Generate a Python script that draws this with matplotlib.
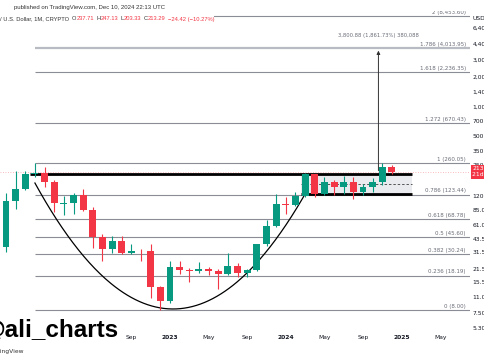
import numpy as np
import matplotlib
matplotlib.use("Agg")
import matplotlib.pyplot as plt
from matplotlib.patches import Rectangle
from matplotlib.ticker import NullLocator
import matplotlib.transforms as mtransforms

# monthly candles, month index relative to Jan 2023 (Aug 2021 .. Dec 2024)
months = list(range(-17, 24))
opens  = [36, 107, 141, 203, 209, 168, 100, 102, 123, 85, 45, 34, 41.6, 31.3, 32.7, 32.2, 13.9,
          9.9, 22.4, 20.8, 20.3, 21.4, 20.3, 18.9, 22.6, 19.2, 20.6, 38, 59,
          100, 97, 121, 201, 125, 166, 147, 168, 131, 150, 166, 237.71]
highs  = [130, 216, 216, 260.06, 240, 176, 121, 130, 143, 92, 49, 46, 47, 38.4, 34.5, 38.4, 14.2,
          25.7, 26, 21.8, 25, 22.2, 21.5, 31.2, 24.6, 21.2, 38.7, 67.4, 124.6,
          116, 131, 208, 204, 190, 175, 192, 189, 161, 183, 264, 247.13]
lows   = [32, 88, 137, 188, 149, 82, 76, 78, 84, 35, 26, 31, 30.5, 30, 26, 10.6, 8.0,
          9.6, 19, 15.6, 19.3, 18.5, 13.1, 18.6, 17.6, 17.4, 20.2, 37, 57,
          79, 94, 118, 118, 124, 122, 127, 111, 122, 133, 155, 203.33]
closes = [107, 141, 203, 209, 168, 101, 102, 123, 85, 45, 34, 41.6, 31.3, 32.7, 32.2, 13.9, 9.9,
          22.4, 20.8, 20.3, 21.4, 20.3, 18.9, 22.6, 19.2, 20.6, 38, 59, 100,
          97, 119, 201, 125, 166, 147, 168, 131, 150, 166, 238, 213.29]

# fibonacci levels drawn on the chart
fib_levels = ["0", "0.236", "0.382", "0.5", "0.618", "0.786", "1", "1.272", "1.618", "1.786", "2"]
fib_prices = [8.00, 18.19, 30.24, 45.60, 68.78, 123.44, 260.05, 670.43, 2236.35, 4013.95, 8453.60]

# range box + cup drawing
box_top, box_bottom = 202.0, 124.7
box_start, box_end, line_start = 13.6, 25.1, -14.5
cup_months = [-14, 0.5, 14]
cup_prices = [163, 8.25, 125.7]
arrow_month, arrow_from, arrow_to = 21.6, 204.16, 4005.04
last_price = 213.29

tick_months = [-4, 0, 4, 8, 12, 16, 20, 24, 28]
tick_labels = ["Sep", "2023", "May", "Sep", "2024", "May", "Sep", "2025", "May"]
price_ticks = [6400, 4400, 3000, 2000, 1400, 1000, 700, 500, 350, 250, 120,
               85, 61, 43.5, 31.5, 21.5, 15.5, 11, 7.5, 5.3]

green, red = "#089981", "#f23645"
dark = "#333333"
W, H = 485, 360
fig = plt.figure(figsize=(W / 100, H / 100), dpi=100)
ax = fig.add_axes([0, (H - 332) / H, 470 / W, 332 / H])
ax.set_yscale("log")
ax.set_ylim(4.78, 12444)
ax.set_xlim(-17.62, 31.09)
for s in ax.spines.values():
    s.set_visible(False)

# box
ax.fill_between([box_start, box_end], box_bottom, box_top, color="#d1d4dc", alpha=0.45, lw=0, zorder=1)
ax.plot([box_start, box_end], [np.sqrt(box_top * box_bottom)] * 2, color="#555555", lw=0.7,
        ls=(0, (2.5, 2)), zorder=2)

# fib lines + labels
trans = mtransforms.blended_transform_factory(ax.transAxes, ax.transData)
for lvl, p in zip(fib_levels, fib_prices):
    if lvl == "1.786":
        ax.hlines(p, -14, 31.09, color="#b8bbc2", lw=1.6, zorder=1)
    else:
        ax.hlines(p, -14, 31.09, color="#8a8d95", lw=0.8, zorder=1)
    ax.text(466 / 470, p * 1.03, f"{lvl} ({p:,.2f})", transform=trans, ha="right", va="bottom",
            fontsize=4.0, color="#6a6d78")

# thick range lines
ax.hlines(box_top, line_start, box_end, color="black", lw=2.0, zorder=3)
ax.hlines(box_bottom, box_start, box_end, color="black", lw=2.0, zorder=3)

# current price line
ax.axhline(last_price, color=red, lw=0.6, ls=(0, (1, 2)), alpha=0.45, zorder=1)

# cup curve
coef = np.polyfit(cup_months, np.log10(cup_prices), 2)
cx = np.linspace(cup_months[0], cup_months[-1], 200)
ax.plot(cx, 10 ** np.polyval(coef, cx), color="black", lw=0.9, zorder=4)

# candles
for m, o, h, l, c in zip(months, opens, highs, lows, closes):
    col = green if c >= o else red
    ax.vlines(m, l, h, color=col, lw=0.8, zorder=5)
    lo, hi = min(o, c), max(o, c)
    if hi / lo < 1.01:
        hi = lo * 1.01
    ax.bar(m, hi - lo, bottom=lo, width=0.72, color=col, lw=0, zorder=6)

# target arrow
ax.annotate("", xy=(arrow_month, arrow_to), xytext=(arrow_month, arrow_from),
            arrowprops=dict(arrowstyle="-|>", color=dark, lw=0.7, mutation_scale=5), zorder=7)
ax.annotate("3,800.88 (1,861.73%) 380,088", xy=(arrow_month, arrow_to), xytext=(0, 7),
            textcoords="offset points", ha="center", va="bottom", fontsize=3.8, color="#6a6d78")

# axes ticks
ax.yaxis.tick_right()
ax.set_yticks(price_ticks)
ax.set_yticklabels([f"{p:,.2f}" for p in price_ticks])
ax.yaxis.set_minor_locator(NullLocator())
ax.tick_params(axis="y", length=0, labelsize=4.3, pad=2, colors="#131722")
ax.set_xticks(tick_months)
ax.set_xticklabels(tick_labels)
ax.tick_params(axis="x", length=0, labelsize=4.3, pad=2.5, colors="#131722")
for t in ax.get_xticklabels():
    if t.get_text().isdigit():
        t.set_fontweight("bold")

# last price tag
ax.text(1.005, last_price, "213.29\n21d 1h", transform=trans, ha="left", va="center",
        fontsize=4.3, color="white", linespacing=1.1, clip_on=False,
        bbox=dict(boxstyle="square,pad=0.3", fc=red, ec="none"))
fig.text(473 / W, 1 - 19 / H, "USD", fontsize=4.3, color="#131722", va="center")

# header
fig.patches.append(Rectangle((0, 1 - 11 / H), 1, 11 / H, transform=fig.transFigure,
                             fc="white", ec="none", zorder=2))
fig.patches.append(Rectangle((0, 1 - 24 / H), 214 / W, 13 / H, transform=fig.transFigure,
                             fc="white", ec="none", zorder=2))
fig.text(14 / W, 1 - 7 / H, "published on TradingView.com, Dec 10, 2024 22:13 UTC",
         fontsize=4.35, family="Liberation Sans", color=dark, va="center", zorder=3)
parts = [("/ U.S. Dollar, 1M, CRYPTO", dark, 3), ("O", dark, 0.3), ("237.71", red, 2),
         ("H", dark, 0.3), ("247.13", red, 2), ("L", dark, 0.3), ("203.33", red, 2),
         ("C", dark, 0.3), ("213.29", red, 2.5), ("\u221224.42 (\u221210.27%)", red, 0)]
renderer = fig.canvas.get_renderer()
xpos = 0.0
for s, col, gap in parts:
    t = fig.text(xpos / W, 1 - 19 / H, s, fontsize=4.12, family="Liberation Sans", color=col,
                 va="center", zorder=3)
    xpos += t.get_window_extent(renderer).width + gap

# watermark
fig.text(-18 / W, 1 - 337 / H, "@ali_charts", fontsize=17.5, fontweight="bold",
         family="Liberation Sans", color="black", va="baseline")
fig.text(24 / W, 1 - 352 / H, "TradingView", fontsize=4.3, color=dark, ha="right", va="center")

fig.savefig("out.png", dpi=100)
